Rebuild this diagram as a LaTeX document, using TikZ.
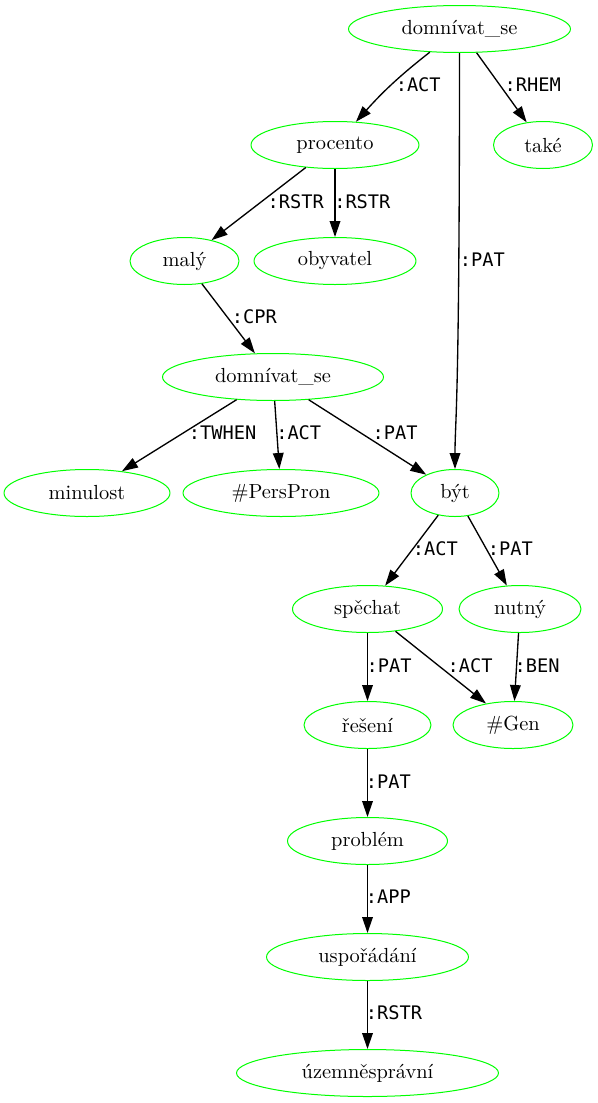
\documentclass[tikz,border=0pt]{standalone}
\usepackage{fontspec}
\newfontfamily\rolefont{DejaVu Sans Mono}
\newfontfamily\lemmafont{lmroman10-regular.otf}
\usetikzlibrary{arrows.meta, shapes.geometric}
\definecolor{lemmagreen}{RGB}{0,255,0}

\begin{document}
\begin{tikzpicture}[x=0.75pt, y=-0.75pt, >={Triangle[length=12pt, width=8pt]}, line join=round]
	
	%======================
	% PARAMETERS
	%======================
	\def\pxl{0.75pt}     % one pixel of the layout grid
	
	% Styles
	\tikzset{
		lemma/.style={ellipse, draw=lemmagreen, line width=0.75pt, inner sep=0pt,
			minimum height=47*\pxl, font=\lemmafont\fontsize{15.3}{18}\selectfont},
		dep/.style={->, line width=1pt, black},
		role/.style={anchor=west, inner sep=0pt, font=\rolefont\fontsize{14}{16}\selectfont}
	}
	
	\useasboundingbox (0,0) rectangle (598,1103);
	
	%======================
	% NODES (rows 116px apart)
	%======================
	\node[lemma, minimum width=222*\pxl] (Dom)  at (459.5,29)  {domnívat\_se};
	\node[lemma, minimum width=168*\pxl] (Proc) at (335,145)   {procento};
	\node[lemma, minimum width=99*\pxl]  (Take) at (543,145)   {také};
	\node[lemma, minimum width=109*\pxl] (Maly) at (184.5,261) {malý};
	\node[lemma, minimum width=162*\pxl] (Obyv) at (335,261)   {obyvatel};
	\node[lemma, minimum width=221*\pxl] (DomB) at (273,377)   {domnívat\_se};
	\node[lemma, minimum width=166*\pxl] (Minu) at (87,493)    {minulost};
	\node[lemma, minimum width=196*\pxl] (Pers) at (281,493)   {\#PersPron};
	\node[lemma, minimum width=88*\pxl]  (Byt)  at (455,493)   {být};
	\node[lemma, minimum width=150*\pxl] (Spech) at (367.5,609) {spěchat};
	\node[lemma, minimum width=122*\pxl] (Nutny) at (520,609)  {nutný};
	\node[lemma, minimum width=127*\pxl] (Res)  at (367.5,725) {řešení};
	\node[lemma, minimum width=120*\pxl] (Gen)  at (513,725)   {\#Gen};
	\node[lemma, minimum width=160*\pxl] (Prob) at (367.5,841) {problém};
	\node[lemma, minimum width=202*\pxl] (Uspo) at (367.5,957) {uspořádání};
	\node[lemma, minimum width=262*\pxl] (Uzem) at (367.5,1073) {územněsprávní};
	
	%======================
	% DEPENDENCIES
	%======================
	\draw[dep] (Dom) to[out=-142, in=48] (Proc);
	\draw[dep] (Dom) -- (Take);
	\draw[dep] (Dom.south) .. controls +(0,360) and +(0,-50) .. (Byt.north);
	\draw[dep] (Proc) -- (Maly);
	\draw[dep] (Proc) -- (Obyv);
	\draw[dep] (Maly) -- (DomB);
	\draw[dep] (DomB) -- (Minu);
	\draw[dep] (DomB) -- (Pers);
	\draw[dep] (DomB) -- (Byt);
	\draw[dep] (Byt) -- (Spech);
	\draw[dep] (Byt) -- (Nutny);
	\draw[dep] (Spech) -- (Res);
	\draw[dep] (Spech) -- (Gen);
	\draw[dep] (Nutny) -- (Gen);
	\draw[dep] (Res) -- (Prob);
	\draw[dep] (Prob) -- (Uspo);
	\draw[dep] (Uspo) -- (Uzem);
	
	% functor labels
	\node[role] (rAct)   at (395.5,85)  {:ACT};
	\node[role] (rRhem)  at (504.3,85)  {:RHEM};
	\node[role] (rPat)   at (459.6,260) {:PAT};
	\node[role] (rRstr)  at (267.3,202) {:RSTR};
	\node[role] (rRstrB) at (334,202)   {:RSTR};
	\node[role] (rCpr)   at (231.6,317) {:CPR};
	\node[role] (rTwhen) at (188.6,433) {:TWHEN};
	\node[role] (rActB)  at (276,433)   {:ACT};
	\node[role] (rPatB)  at (372.3,433) {:PAT};
	\node[role] (rActC)  at (412.6,549) {:ACT};
	\node[role] (rPatC)  at (487.6,549) {:PAT};
	\node[role] (rPatD)  at (366.3,666) {:PAT};
	\node[role] (rActD)  at (447.3,666) {:ACT};
	\node[role] (rBen)   at (514.3,666) {:BEN};
	\node[role] (rPatE)  at (365.6,782) {:PAT};
	\node[role] (rApp)   at (365.6,897) {:APP};
	\node[role] (rRstrC) at (365.6,1013) {:RSTR};
\end{tikzpicture}
\end{document}
